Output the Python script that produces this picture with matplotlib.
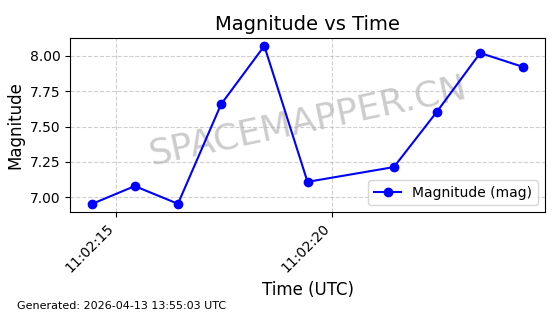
import matplotlib
matplotlib.use("Agg")
import matplotlib.pyplot as plt
import matplotlib.dates as mdates
import pandas as pd

times = ["11:02:14.43", "11:02:15.43", "11:02:16.43", "11:02:17.43", "11:02:18.43",
         "11:02:19.43", "11:02:21.43", "11:02:22.43", "11:02:23.43", "11:02:24.43"]
magnitudes = [6.953, 7.08, 6.955, 7.658, 8.069, 7.11, 7.214, 7.606, 8.019, 7.92]

t = pd.to_datetime(["2026-04-13 " + s for s in times])

fig = plt.figure(figsize=(5.6, 3.14), dpi=100)
ax = fig.add_axes([70/560, 1-212/314, 475/560, 174/314])
ax.plot(t, magnitudes, color="blue", marker="o", markersize=6, linewidth=1.5, label="Magnitude (mag)")
ax.set_title("Magnitude vs Time", fontsize=14)
ax.set_xlabel("Time (UTC)", fontsize=12)
ax.set_ylabel("Magnitude", fontsize=12)
ax.grid(True, linestyle="--", alpha=0.6)
ax.xaxis.set_major_locator(mdates.SecondLocator(bysecond=range(0, 60, 5)))
ax.xaxis.set_major_formatter(mdates.DateFormatter("%H:%M:%S"))
plt.setp(ax.get_xticklabels(), rotation=45, ha="right")
ax.legend(loc="lower right")
ax.text(0.5, 0.52, "SPACEMAPPER.CN", transform=ax.transAxes, fontsize=26, color="gray",
        alpha=0.4, rotation=12, ha="center", va="center", zorder=0)
fig.text(0.03, 0.015, "Generated: 2026-04-13 13:55:03 UTC", fontsize=8)
fig.savefig("out.png", dpi=100)
